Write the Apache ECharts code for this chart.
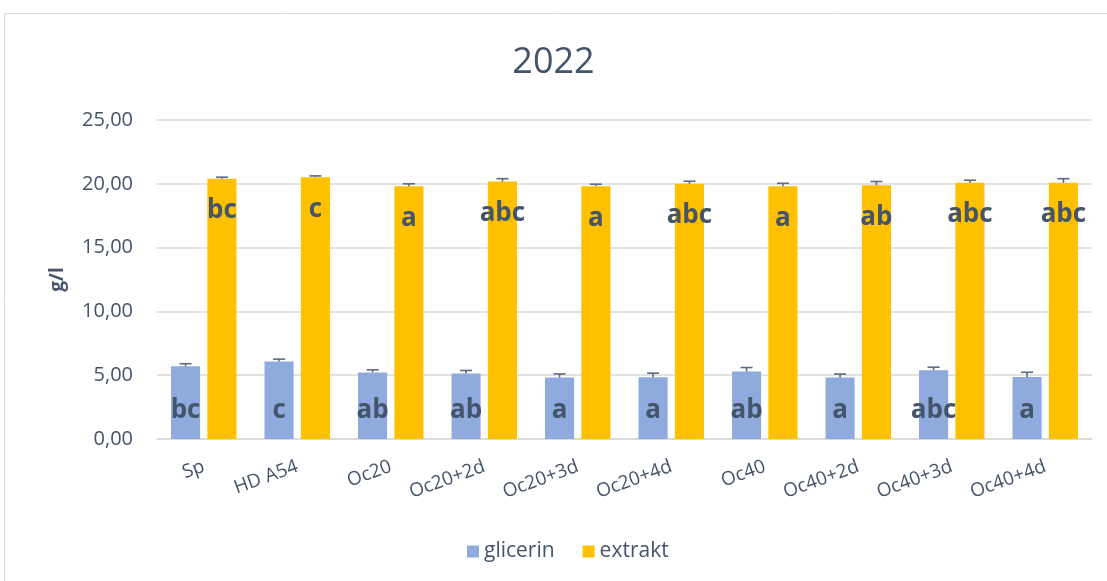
<!DOCTYPE html>
<html>
<head>
<meta charset="utf-8">
<script src="https://cdn.jsdelivr.net/npm/echarts@6/dist/echarts.min.js"></script>
<style>
html,body{margin:0;padding:0;background:#fff;}
#chart{width:1107px;height:581px;}
</style>
</head>
<body>
<div id="chart"></div>
<script>
const categories = ['Sp','HD A54','Oc20','Oc20+2d','Oc20+3d','Oc20+4d','Oc40','Oc40+2d','Oc40+3d','Oc40+4d'];
const glicerin = [5.70, 6.08, 5.22, 5.13, 4.82, 4.83, 5.29, 4.82, 5.38, 4.86];
const glicerinErr = [0.20, 0.18, 0.20, 0.24, 0.28, 0.33, 0.31, 0.27, 0.25, 0.37];
const extrakt = [20.40, 20.52, 19.80, 20.18, 19.80, 20.00, 19.80, 19.88, 20.08, 20.08];
const extraktErr = [0.12, 0.10, 0.20, 0.22, 0.17, 0.20, 0.24, 0.30, 0.20, 0.32];
const glicerinLetters = ['bc','c','ab','ab','a','a','ab','a','abc','a'];
const extraktLetters = ['bc','c','a','abc','a','abc','a','ab','abc','abc'];
const yTicks = [0, 5, 10, 15, 20, 25];

const FONT = '"Open Sans", sans-serif';
const TXT = '#44546A';
const ERRC = '#5B6B80';
const BAR_GAP = 0.25, CAT_GAP = 0.30;

function errSeries(vals, errs, side) {
  return {
    type: 'custom',
    z: 5,
    silent: true,
    data: vals.map((v, i) => [i, v, errs[i]]),
    encode: { x: 0, y: 1 },
    renderItem: function (params, api) {
      const i = api.value(0), v = api.value(1), e = api.value(2);
      const cw = api.size([1, 0])[0];
      const bw = cw * (1 - CAT_GAP) / (2 + BAR_GAP);
      const off = side * bw * (0.5 + BAR_GAP / 2);
      const p0 = api.coord([i, v]);
      const p1 = api.coord([i, v + e]);
      const x = p0[0] + off;
      const cap = 6;
      const st = { stroke: ERRC, lineWidth: 1.6 };
      return {
        type: 'group',
        children: [
          { type: 'line', shape: { x1: x, y1: p0[1], x2: x, y2: p1[1] }, style: st },
          { type: 'line', shape: { x1: x - cap, y1: p1[1], x2: x + cap, y2: p1[1] }, style: st }
        ]
      };
    }
  };
}

const chart = echarts.init(document.getElementById('chart'), null, { renderer: 'canvas' });
chart.setOption({
  animation: false,
  backgroundColor: '#fff',
  textStyle: { fontFamily: FONT },
  graphic: [{
    type: 'rect', silent: true, z: -10,
    shape: { x: 4.5, y: 13.5, width: 1120, height: 620 },
    style: { fill: 'none', stroke: '#D9D9D9', lineWidth: 1 }
  }],
  title: {
    text: '2022', left: 'center', top: 40,
    textStyle: { fontFamily: FONT, fontSize: 36, fontWeight: 'normal', color: TXT }
  },
  legend: {
    data: ['glicerin', 'extrakt'], bottom: 14, left: 462,
    icon: 'rect', itemWidth: 12, itemHeight: 12, itemGap: 28,
    textStyle: { fontFamily: FONT, fontSize: 21, color: TXT }
  },
  grid: { left: 157, right: 15, top: 120, bottom: 142, containLabel: false },
  xAxis: {
    type: 'category', data: categories,
    axisTick: { show: false },
    axisLine: { lineStyle: { color: '#D9D9D9', width: 1.5 } },
    axisLabel: { rotate: 20, margin: 27, fontFamily: FONT, fontSize: 19, color: TXT, interval: 0 }
  },
  yAxis: {
    type: 'value', min: 0, max: 25, interval: 5,
    name: 'g/l', nameLocation: 'middle', nameGap: 90,
    nameTextStyle: { fontFamily: FONT, fontSize: 19, fontWeight: 'bold', color: TXT },
    axisLine: { show: false }, axisTick: { show: false },
    splitLine: { lineStyle: { color: '#D9D9D9', width: 1.5 } },
    axisLabel: {
      margin: 24, fontFamily: FONT, fontSize: 20, color: TXT,
      formatter: v => yTicks.includes(v) ? v.toFixed(2).replace('.', ',') : ''
    }
  },
  series: [
    {
      name: 'glicerin', type: 'bar', data: glicerin,
      barGap: (BAR_GAP * 100) + '%', barCategoryGap: (CAT_GAP * 100) + '%',
      itemStyle: { color: '#8FAADC' },
      label: {
        show: true, position: 'insideBottom', distance: 15,
        formatter: p => glicerinLetters[p.dataIndex],
        fontFamily: FONT, fontSize: 26, fontWeight: 'bold', color: TXT
      }
    },
    {
      name: 'extrakt', type: 'bar', data: extrakt,
      barGap: (BAR_GAP * 100) + '%', barCategoryGap: (CAT_GAP * 100) + '%',
      itemStyle: { color: '#FFC000' },
      label: {
        show: true, position: 'insideTop', distance: 19,
        formatter: p => extraktLetters[p.dataIndex],
        fontFamily: FONT, fontSize: 26, fontWeight: 'bold', color: TXT
      }
    },
    errSeries(glicerin, glicerinErr, -1),
    errSeries(extrakt, extraktErr, 1)
  ]
});
</script>
</body>
</html>
